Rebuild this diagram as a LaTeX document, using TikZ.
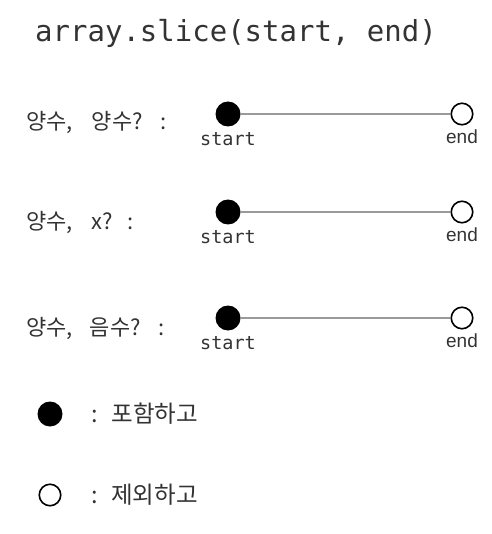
\documentclass[tikz,border=0pt]{standalone}
\usepackage{fontspec}
\usetikzlibrary{positioning}
\newfontfamily\krfont{Noto Sans CJK KR}
\newfontfamily\monofont{DejaVu Sans Mono}
\newfontfamily\endfont{Liberation Sans}
\definecolor{txtclr}{HTML}{333333}
\definecolor{lineclr}{HTML}{9A9A9A}
\tikzset{ %
  ,every node/.style={text=txtclr}
  ,heading/.style={inner sep=0, font=\monofont\fontsize{29}{29}\selectfont}
  ,incl/.style={circle, fill=black, inner sep=0, minimum size=25pt}
  ,excl/.style={circle, draw=black, line width=1.6pt, fill=white, inner sep=0, minimum size=21.5pt}
  ,lbl/.style={anchor=west, inner sep=0, font=\krfont\fontsize{22}{22}\selectfont}
  ,keytxt/.style={anchor=west, inner sep=0, font=\krfont\fontsize{23.5}{23.5}\selectfont}
  ,tag/.style={inner sep=0, font=\monofont\fontsize{18.5}{18.5}\selectfont}
  ,endtag/.style={inner sep=0, font=\endfont\fontsize{19}{19}\selectfont}
  ,spanline/.style={draw=lineclr, line width=1.5pt}
}

\begin{document}
\begin{tikzpicture}[x=1pt,y=-1pt]
  \useasboundingbox (0,0) rectangle (491,534);
  \node[heading] (head) at (236,33) {array.slice(start, end)};

  % positive, positive
  \draw
  node[lbl] (lbl1) at (26,122.5) {양수,\hspace{19pt}양수?\hspace{18pt}:}
  node[incl] (s1) at (228,114) {}
  node[tag, below=6pt of s1] (st1) {start}
  node[excl] (e1) at (462,114) {}
  node[endtag, below=4pt of e1] (en1) {end};
  \draw[spanline] (s1) -- (e1);

  % positive, none
  \draw
  node[lbl] (lbl2) at (26,222.5) {양수,\hspace{19pt}x?\hspace{14pt}:}
  node[incl] (s2) at (228,212) {}
  node[tag, below=6pt of s2] (st2) {start}
  node[excl] (e2) at (462,212) {}
  node[endtag, below=4pt of e2] (en2) {end};
  \draw[spanline] (s2) -- (e2);

  % positive, negative
  \draw
  node[lbl] (lbl3) at (26,328) {양수,\hspace{17pt}음수?\hspace{18pt}:}
  node[incl] (s3) at (228,318) {}
  node[tag, below=6pt of s3] (st3) {start}
  node[excl] (e3) at (462,318) {}
  node[endtag, below=4pt of e3] (en3) {end};
  \draw[spanline] (s3) -- (e3);

  % legend
  \draw
  node[incl] (k1) at (50,414) {}
  node[keytxt, right=29pt of k1] (t1) {:\hspace{13pt}포함하고}
  node[excl] (k2) at (50,495) {}
  node[keytxt, right=30pt of k2] (t2) {:\hspace{13pt}제외하고};
\end{tikzpicture}
\end{document}
